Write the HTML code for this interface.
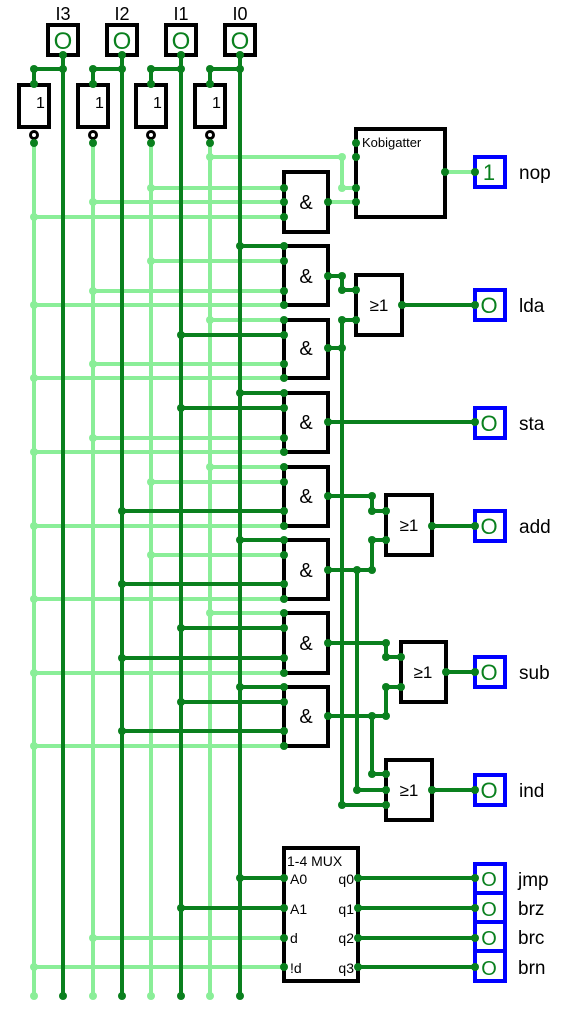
<!DOCTYPE html>
<html><head><meta charset="utf-8"><style>
html,body{margin:0;padding:0;background:#fff}
svg{display:block}
text{font-family:"Liberation Sans",sans-serif}
</style></head><body>
<svg width="574" height="1012" viewBox="0 0 574 1012" xmlns="http://www.w3.org/2000/svg">
<g fill="none" stroke-width="4" stroke-linecap="butt">
<g stroke="#8aee98">
<path d="M34 143V996M93 143V996M151 143V996M210 143V996"/>
<path d="M151 188H284M93 202H284M34 217H284"/>
<path d="M210 157H342V188H356"/>
<path d="M328 202H356M445 172H475"/>
<path d="M151 261H284M93 291H284M34 305H284"/>
<path d="M210 320H284M93 364H284M34 378H284"/>
<path d="M93 438H284M34 452H284"/>
<path d="M210 467H284M151 482H284M34 526H284"/>
<path d="M151 555H284M34 599H284"/>
<path d="M210 613H284M34 673H284"/>
<path d="M34 746H284"/>
<path d="M93 938H284M34 967H284"/>
</g>
<g stroke="#0a801e">
<path d="M63 55V996M122 55V996M181 55V996M240 55V996"/>
<path d="M34 69H63V55M93 69H122V55M151 69H181V55M210 69H240V55"/>
<path d="M34 69V84M93 69V84M151 69V84M210 69V84"/>
<path d="M240 246H284M240 393H284M181 408H284M181 335H284"/>
<path d="M122 511H284M240 540H284M122 584H284M181 628H284M122 658H284M240 687H284M181 702H284M122 731H284"/>
<path d="M328 276H342V290H356M328 348H342V320H356M342 320V805H386"/>
<path d="M402 305H475"/>
<path d="M328 422H475"/>
<path d="M328 496H372V511H386M328 570H372V540H386M357 570V790H386"/>
<path d="M432 526H475"/>
<path d="M328 643H386V657H401M328 716H386V687H401M372 716V774H386"/>
<path d="M446 672H475"/>
<path d="M432 790H475"/>
<path d="M240 878H284M181 908H284"/>
<path d="M358 878H475M358 908H475M358 938H475M358 967H475"/>
</g>
<g stroke="#000">
<rect x="48" y="25" width="30" height="30"/><rect x="107" y="25" width="30" height="30"/><rect x="166" y="25" width="30" height="30"/><rect x="225" y="25" width="30" height="30"/>
<rect x="19" y="85" width="30" height="42"/><rect x="78" y="85" width="30" height="42"/><rect x="136" y="85" width="30" height="42"/><rect x="195" y="85" width="30" height="42"/>
<circle cx="34" cy="135" r="3.5" stroke-width="3"/><circle cx="93" cy="135" r="3.5" stroke-width="3"/><circle cx="151" cy="135" r="3.5" stroke-width="3"/><circle cx="210" cy="135" r="3.5" stroke-width="3"/>
<rect x="284" y="172" width="44" height="60"/>
<rect x="356" y="129" width="89" height="88"/>
<rect x="284" y="246" width="44" height="59"/>
<rect x="284" y="320" width="44" height="58"/>
<rect x="284" y="393" width="44" height="59"/>
<rect x="284" y="467" width="44" height="59"/>
<rect x="284" y="540" width="44" height="59"/>
<rect x="284" y="613" width="44" height="60"/>
<rect x="284" y="687" width="44" height="59"/>
<rect x="356" y="275" width="46" height="60"/>
<rect x="386" y="495" width="46" height="60"/>
<rect x="401" y="642" width="45" height="60"/>
<rect x="386" y="760" width="46" height="60"/>
<rect x="284" y="848" width="74" height="133"/>
</g>
<g stroke="#0000ff">
<rect x="475" y="157" width="30" height="30"/>
<rect x="475" y="290" width="30" height="30"/>
<rect x="475" y="408" width="30" height="30"/>
<rect x="475" y="511" width="30" height="30"/>
<rect x="475" y="657" width="30" height="30"/>
<rect x="475" y="775" width="30" height="30"/>
<rect x="475" y="864" width="30" height="29"/>
<rect x="475" y="893" width="30" height="29"/>
<rect x="475" y="922" width="30" height="29"/>
<rect x="475" y="951" width="30" height="30"/>
</g>
</g>
<g fill="#8aee98">
<circle cx="34" cy="996" r="4"/><circle cx="93" cy="996" r="4"/><circle cx="151" cy="996" r="4"/><circle cx="210" cy="996" r="4"/>
<circle cx="151" cy="188" r="4"/><circle cx="93" cy="202" r="4"/><circle cx="34" cy="217" r="4"/><circle cx="210" cy="157" r="4"/><circle cx="342" cy="157" r="4"/><circle cx="342" cy="188" r="4"/>
<circle cx="151" cy="261" r="4"/><circle cx="93" cy="291" r="4"/><circle cx="34" cy="305" r="4"/>
<circle cx="210" cy="320" r="4"/><circle cx="93" cy="364" r="4"/><circle cx="34" cy="378" r="4"/>
<circle cx="93" cy="438" r="4"/><circle cx="34" cy="452" r="4"/>
<circle cx="210" cy="467" r="4"/><circle cx="151" cy="482" r="4"/><circle cx="34" cy="526" r="4"/>
<circle cx="151" cy="555" r="4"/><circle cx="34" cy="599" r="4"/>
<circle cx="210" cy="613" r="4"/><circle cx="34" cy="673" r="4"/><circle cx="34" cy="746" r="4"/>
<circle cx="93" cy="938" r="4"/><circle cx="34" cy="967" r="4"/>
</g>
<g fill="#0a801e">
<circle cx="63" cy="996" r="4"/><circle cx="122" cy="996" r="4"/><circle cx="181" cy="996" r="4"/><circle cx="240" cy="996" r="4"/>
<circle cx="63" cy="55" r="4"/><circle cx="122" cy="55" r="4"/><circle cx="181" cy="55" r="4"/><circle cx="240" cy="55" r="4"/>
<circle cx="63" cy="69" r="4"/><circle cx="122" cy="69" r="4"/><circle cx="181" cy="69" r="4"/><circle cx="240" cy="69" r="4"/>
<circle cx="34" cy="69" r="4"/><circle cx="93" cy="69" r="4"/><circle cx="151" cy="69" r="4"/><circle cx="210" cy="69" r="4"/>
<circle cx="34" cy="84" r="4"/><circle cx="93" cy="84" r="4"/><circle cx="151" cy="84" r="4"/><circle cx="210" cy="84" r="4"/>
<circle cx="34" cy="143" r="4"/><circle cx="93" cy="143" r="4"/><circle cx="151" cy="143" r="4"/><circle cx="210" cy="143" r="4"/>
<circle cx="284" cy="188" r="4"/><circle cx="284" cy="202" r="4"/><circle cx="284" cy="217" r="4"/><circle cx="328" cy="202" r="4"/>
<circle cx="356" cy="143" r="4"/><circle cx="356" cy="157" r="4"/><circle cx="356" cy="188" r="4"/><circle cx="356" cy="202" r="4"/><circle cx="445" cy="172" r="4"/><circle cx="475" cy="172" r="4"/>
<circle cx="284" cy="246" r="4"/><circle cx="284" cy="261" r="4"/><circle cx="284" cy="291" r="4"/><circle cx="284" cy="305" r="4"/><circle cx="240" cy="246" r="4"/><circle cx="328" cy="276" r="4"/>
<circle cx="284" cy="320" r="4"/><circle cx="284" cy="335" r="4"/><circle cx="284" cy="364" r="4"/><circle cx="284" cy="378" r="4"/><circle cx="181" cy="335" r="4"/><circle cx="328" cy="348" r="4"/>
<circle cx="284" cy="393" r="4"/><circle cx="284" cy="408" r="4"/><circle cx="284" cy="438" r="4"/><circle cx="284" cy="452" r="4"/><circle cx="240" cy="393" r="4"/><circle cx="181" cy="408" r="4"/><circle cx="328" cy="422" r="4"/>
<circle cx="284" cy="467" r="4"/><circle cx="284" cy="482" r="4"/><circle cx="284" cy="511" r="4"/><circle cx="284" cy="526" r="4"/><circle cx="122" cy="511" r="4"/><circle cx="328" cy="496" r="4"/>
<circle cx="284" cy="540" r="4"/><circle cx="284" cy="555" r="4"/><circle cx="284" cy="584" r="4"/><circle cx="284" cy="599" r="4"/><circle cx="240" cy="540" r="4"/><circle cx="122" cy="584" r="4"/><circle cx="328" cy="570" r="4"/>
<circle cx="284" cy="613" r="4"/><circle cx="284" cy="628" r="4"/><circle cx="284" cy="658" r="4"/><circle cx="284" cy="673" r="4"/><circle cx="181" cy="628" r="4"/><circle cx="122" cy="658" r="4"/><circle cx="328" cy="643" r="4"/>
<circle cx="284" cy="687" r="4"/><circle cx="284" cy="702" r="4"/><circle cx="284" cy="731" r="4"/><circle cx="284" cy="746" r="4"/><circle cx="240" cy="687" r="4"/><circle cx="181" cy="702" r="4"/><circle cx="122" cy="731" r="4"/><circle cx="328" cy="716" r="4"/>
<circle cx="342" cy="276" r="4"/><circle cx="342" cy="290" r="4"/><circle cx="356" cy="290" r="4"/><circle cx="342" cy="348" r="4"/><circle cx="342" cy="320" r="4"/><circle cx="356" cy="320" r="4"/><circle cx="402" cy="305" r="4"/><circle cx="475" cy="305" r="4"/><circle cx="475" cy="422" r="4"/>
<circle cx="372" cy="496" r="4"/><circle cx="372" cy="511" r="4"/><circle cx="386" cy="511" r="4"/><circle cx="372" cy="570" r="4"/><circle cx="357" cy="570" r="4"/><circle cx="372" cy="540" r="4"/><circle cx="386" cy="540" r="4"/><circle cx="432" cy="526" r="4"/><circle cx="475" cy="526" r="4"/>
<circle cx="386" cy="643" r="4"/><circle cx="386" cy="657" r="4"/><circle cx="401" cy="657" r="4"/><circle cx="386" cy="716" r="4"/><circle cx="372" cy="716" r="4"/><circle cx="386" cy="687" r="4"/><circle cx="401" cy="687" r="4"/><circle cx="446" cy="672" r="4"/><circle cx="475" cy="672" r="4"/>
<circle cx="372" cy="774" r="4"/><circle cx="386" cy="774" r="4"/><circle cx="357" cy="790" r="4"/><circle cx="386" cy="790" r="4"/><circle cx="342" cy="805" r="4"/><circle cx="386" cy="805" r="4"/><circle cx="432" cy="790" r="4"/><circle cx="475" cy="790" r="4"/>
<circle cx="240" cy="878" r="4"/><circle cx="181" cy="908" r="4"/>
<circle cx="284" cy="878" r="4"/><circle cx="284" cy="908" r="4"/><circle cx="284" cy="938" r="4"/><circle cx="284" cy="967" r="4"/>
<circle cx="358" cy="878" r="4"/><circle cx="358" cy="908" r="4"/><circle cx="358" cy="938" r="4"/><circle cx="358" cy="967" r="4"/>
<circle cx="475" cy="878" r="4"/><circle cx="475" cy="908" r="4"/><circle cx="475" cy="938" r="4"/><circle cx="475" cy="967" r="4"/>
</g>
<g font-size="18" fill="#000" text-anchor="middle">
<text x="63" y="20">I3</text><text x="122" y="20">I2</text><text x="181" y="20">I1</text><text x="240" y="20">I0</text>
</g>
<g font-size="24" fill="#0a801e" text-anchor="middle">
<text x="63" y="49">O</text><text x="122" y="49">O</text><text x="181" y="49">O</text><text x="240" y="49">O</text>
</g>
<g font-size="22" fill="#0a801e" text-anchor="middle">
<text x="489" y="180">1</text><text x="489" y="313">O</text><text x="489" y="431">O</text><text x="489" y="534">O</text><text x="489" y="680">O</text><text x="489" y="798">O</text>
<text x="489" y="886" font-size="20">O</text><text x="489" y="916" font-size="20">O</text><text x="489" y="945" font-size="20">O</text><text x="489" y="975" font-size="20">O</text>
</g>
<g font-size="16" fill="#000">
<text x="36" y="108">1</text><text x="95" y="108">1</text><text x="153" y="108">1</text><text x="212" y="108">1</text>
</g>
<g font-size="20" fill="#000" text-anchor="middle">
<text x="306" y="209">&amp;</text><text x="306" y="283">&amp;</text><text x="306" y="355">&amp;</text><text x="306" y="429">&amp;</text><text x="306" y="503">&amp;</text><text x="306" y="577">&amp;</text><text x="306" y="650">&amp;</text><text x="306" y="723">&amp;</text>
</g>
<g font-size="17" fill="#000" text-anchor="middle">
<text x="379" y="311">≥1</text><text x="409" y="531">≥1</text><text x="423" y="678">≥1</text><text x="409" y="796">≥1</text>
</g>
<text x="362" y="147" font-size="13">Kobigatter</text>
<g font-size="14">
<text x="287" y="866">1-4 MUX</text>
<text x="290" y="884">A0</text><text x="290" y="914">A1</text><text x="290" y="943">d</text><text x="290" y="973">!d</text>
<text x="354" y="884" text-anchor="end">q0</text><text x="354" y="914" text-anchor="end">q1</text><text x="354" y="943" text-anchor="end">q2</text><text x="354" y="973" text-anchor="end">q3</text>
</g>
<g font-size="19" fill="#000">
<text x="519" y="179">nop</text><text x="519" y="312">lda</text><text x="519" y="430">sta</text><text x="519" y="533">add</text><text x="519" y="679">sub</text><text x="519" y="797">ind</text>
<text x="518" y="886">jmp</text><text x="518" y="915">brz</text><text x="518" y="944">brc</text><text x="518" y="974">brn</text>
</g>
</svg>
</body></html>
